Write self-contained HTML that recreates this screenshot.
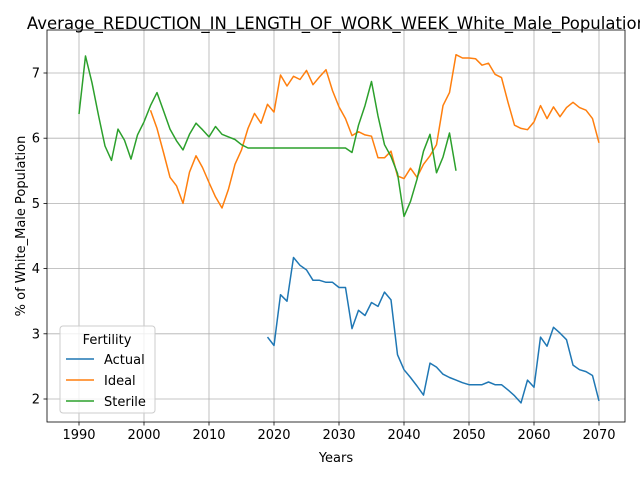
<!DOCTYPE html>
<html><head><meta charset="utf-8"><style>body{margin:0;background:#fff}svg{display:block}text{font-family:"DejaVu Sans","Liberation Sans",sans-serif}</style></head>
<body>
<svg id="chart" width="640" height="480"></svg>
<script>
const years0=[1990,2070];
const sterileStart=1990;
const sterile=[6.37,7.26,6.85,6.35,5.88,5.66,6.14,5.97,5.68,6.05,6.25,6.5,6.7,6.42,6.14,5.96,5.82,6.06,6.23,6.13,6.02,6.18,6.06,6.02,5.98,5.9,5.85,5.85,5.85,5.85,5.85,5.85,5.85,5.85,5.85,5.85,5.85,5.85,5.85,5.85,5.85,5.85,5.78,6.2,6.5,6.87,6.34,5.9,5.72,5.46,4.8,5.03,5.37,5.8,6.06,5.47,5.71,6.08,5.5];
const idealStart=2001;
const ideal=[6.43,6.15,5.78,5.4,5.27,5.0,5.48,5.73,5.55,5.32,5.1,4.93,5.22,5.6,5.82,6.15,6.38,6.23,6.52,6.4,6.97,6.8,6.95,6.9,7.04,6.82,6.94,7.05,6.73,6.48,6.3,6.04,6.1,6.05,6.03,5.7,5.7,5.8,5.42,5.38,5.54,5.4,5.6,5.73,5.9,6.5,6.7,7.28,7.23,7.23,7.22,7.12,7.15,6.98,6.93,6.55,6.2,6.15,6.13,6.25,6.5,6.3,6.48,6.33,6.47,6.55,6.47,6.43,6.3,5.93];
const actualStart=2019;
const actual=[2.95,2.82,3.6,3.5,4.17,4.05,3.98,3.82,3.82,3.79,3.79,3.71,3.71,3.08,3.36,3.28,3.48,3.42,3.64,3.52,2.68,2.45,2.33,2.2,2.06,2.55,2.49,2.38,2.33,2.29,2.25,2.22,2.22,2.22,2.26,2.22,2.22,2.14,2.05,1.94,2.29,2.18,2.95,2.81,3.1,3.01,2.91,2.52,2.45,2.42,2.36,1.97];
const xTicks=[1990,2000,2010,2020,2030,2040,2050,2060,2070];
const yTicks=[2,3,4,5,6,7];
const NS="http://www.w3.org/2000/svg";
const svg=document.getElementById('chart');
const L=47,R=625,T=30,B=422;
const xs=y=>79+(y-1990)*6.5;
const ys=v=>399-(v-2)*65.2;
function mk(tag,attrs,parent){const e=document.createElementNS(NS,tag);for(const k in attrs)e.setAttribute(k,attrs[k]);(parent||svg).appendChild(e);return e;}
const grid=mk('g',{});


xTicks.forEach(t=>{mk('line',{x1:xs(t),x2:xs(t),y1:T,y2:B,stroke:'#b0b0b0','stroke-width':0.8},grid);
 mk('line',{x1:xs(t),x2:xs(t),y1:B,y2:B+3.5,stroke:'#000','stroke-width':0.8});
 const tx=mk('text',{x:xs(t),y:B+17,'text-anchor':'middle','font-size':13});tx.textContent=t;
 
 });
yTicks.forEach(t=>{mk('line',{x1:L,x2:R,y1:ys(t),y2:ys(t),stroke:'#b0b0b0','stroke-width':0.8},grid);
 mk('line',{x1:L-3.5,x2:L,y1:ys(t),y2:ys(t),stroke:'#000','stroke-width':0.8});
 const tx=mk('text',{x:L-7,y:ys(t)+4.5,'text-anchor':'end','font-size':13});tx.textContent=t;
 
 });
function series(arr,start,color,name){const pts=arr.map((v,i)=>xs(start+i).toFixed(1)+','+ys(v).toFixed(1)).join(' ');
 const p=mk('polyline',{points:pts,fill:'none',stroke:color,'stroke-width':1.5,'stroke-linejoin':'round'});
 
 }
series(actual,actualStart,'#1f77b4','actual-line');
series(ideal,idealStart,'#ff7f0e','ideal-line');
series(sterile,sterileStart,'#2ca02c','sterile-line');
const frame=mk('rect',{x:L,y:T,width:R-L,height:B-T,fill:'none',stroke:'#000','stroke-width':0.8});


</script>
<svg width="640" height="480" style="position:absolute;left:0;top:0">
<text x="337" y="29" text-anchor="middle" font-size="16.5">Average_REDUCTION_IN_LENGTH_OF_WORK_WEEK_White_Male_Population</text>
<text x="336" y="462" text-anchor="middle" font-size="13">Years</text>
<text transform="translate(25,226) rotate(-90)" text-anchor="middle" font-size="13">% of White_Male Population</text>
<g>
<rect x="60" y="326" width="95" height="87" rx="3" fill="#fff" fill-opacity="0.8" stroke="#ccc"/>
<text x="107" y="344" text-anchor="middle" font-size="13">Fertility</text>
<line x1="66" x2="94" y1="359" y2="359" stroke="#1f77b4" stroke-width="1.5"/><text x="104" y="364" font-size="13">Actual</text>
<line x1="66" x2="94" y1="380" y2="380" stroke="#ff7f0e" stroke-width="1.5"/><text x="104" y="385" font-size="13">Ideal</text>
<line x1="66" x2="94" y1="401" y2="401" stroke="#2ca02c" stroke-width="1.5"/><text x="104" y="406" font-size="13">Sterile</text>
</g>
</svg>
</body></html>
